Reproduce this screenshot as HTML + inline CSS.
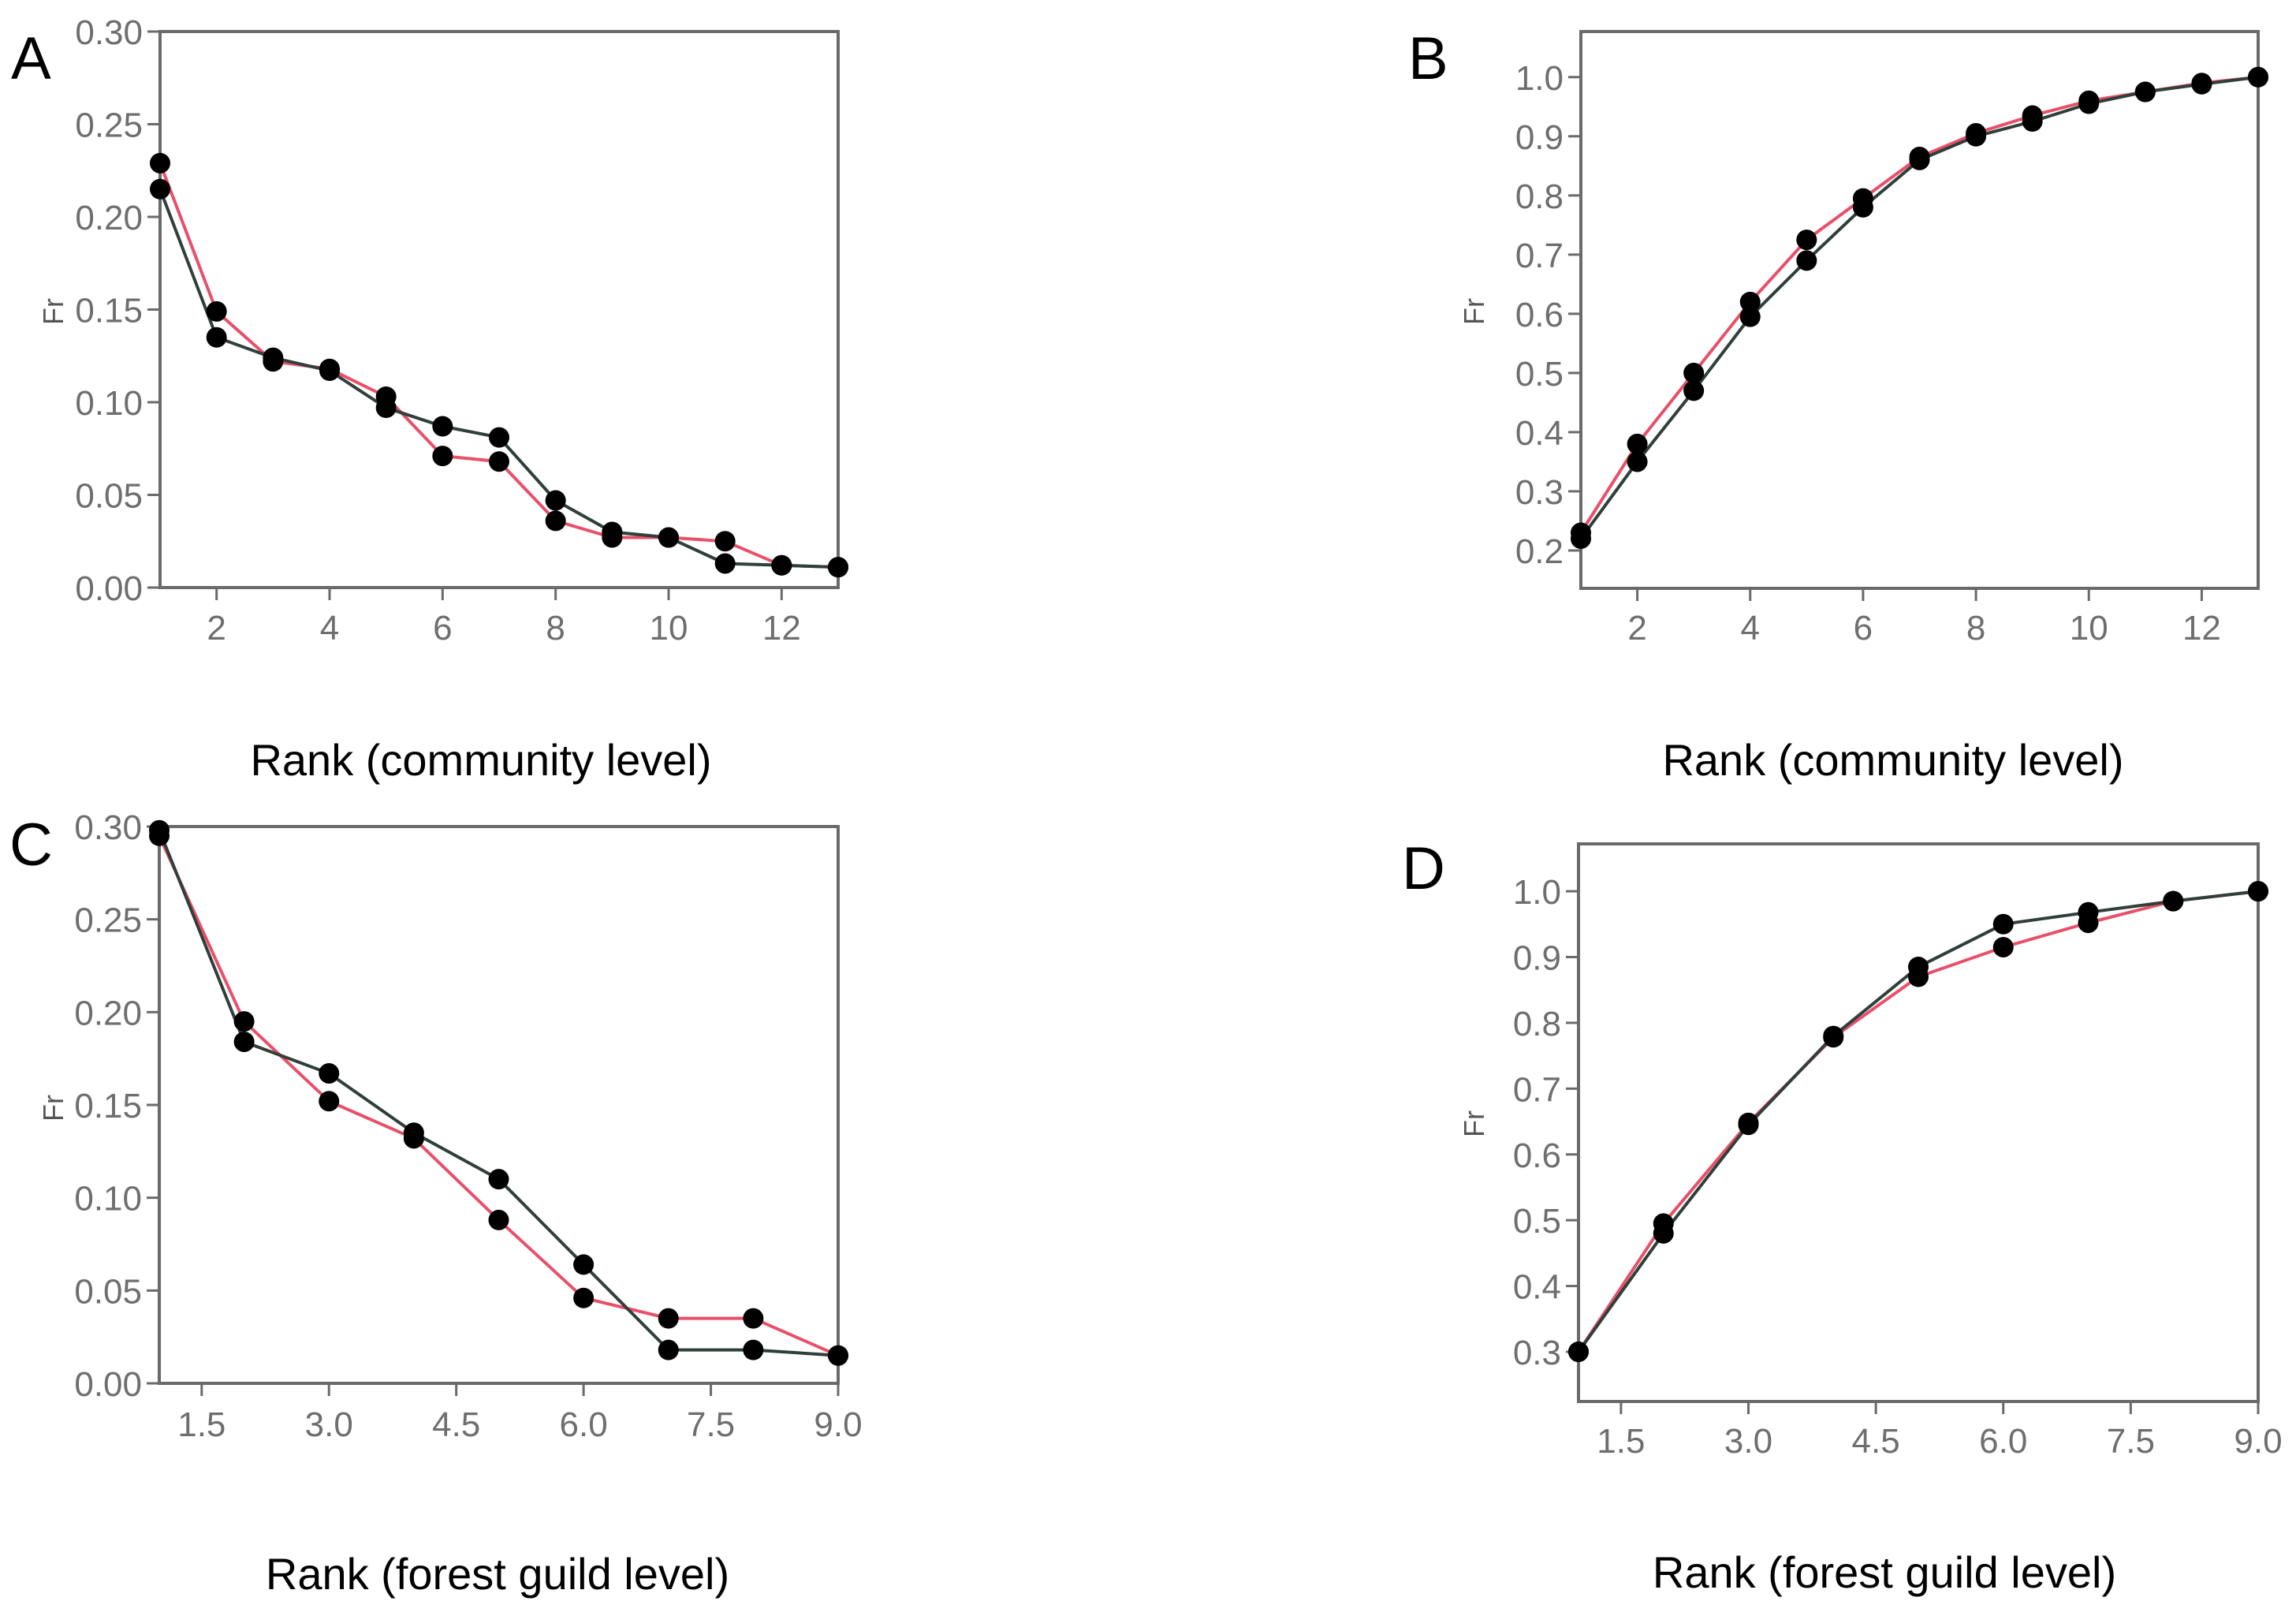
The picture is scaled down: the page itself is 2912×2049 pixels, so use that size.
<!DOCTYPE html>
<html><head><meta charset="utf-8"><style>
html,body{margin:0;padding:0;background:#fff;}
svg{display:block;}
text{font-family:"Liberation Sans",sans-serif;}
</style></head><body>
<svg id="fig" width="2912" height="2049" viewBox="0 0 2912 2049" xmlns="http://www.w3.org/2000/svg"></svg>
<script>
// Panel A data (community level, rank abundance)
const rankA = [1,2,3,4,5,6,7,8,9,10,11,12,13];
const blackA = [0.215,0.135,0.124,0.117,0.097,0.087,0.081,0.047,0.030,0.027,0.013,0.012,0.011];
const redA = [0.229,0.149,0.122,0.118,0.103,0.071,0.068,0.036,0.027,0.027,0.025,0.012,0.011];
const yTicksA = [0.00,0.05,0.10,0.15,0.20,0.25,0.30];
const xTicksA = [2,4,6,8,10,12];
// Panel B data (community level, cumulative)
const rankB = [1,2,3,4,5,6,7,8,9,10,11,12,13];
const blackB = [0.22,0.35,0.47,0.595,0.69,0.78,0.86,0.90,0.925,0.955,0.975,0.988,1.0];
const redB = [0.23,0.38,0.50,0.62,0.725,0.795,0.865,0.905,0.935,0.96,0.975,0.99,1.0];
const yTicksB = [0.2,0.3,0.4,0.5,0.6,0.7,0.8,0.9,1.0];
const xTicksB = [2,4,6,8,10,12];
// Panel C data (forest guild level, rank abundance)
const rankC = [1,2,3,4,5,6,7,8,9];
const blackC = [0.298,0.184,0.167,0.135,0.110,0.064,0.018,0.018,0.015];
const redC = [0.295,0.195,0.152,0.132,0.088,0.046,0.035,0.035,0.015];
const yTicksC = [0.00,0.05,0.10,0.15,0.20,0.25,0.30];
const xTicksC = [1.5,3.0,4.5,6.0,7.5,9.0];
// Panel D data (forest guild level, cumulative)
const rankD = [1,2,3,4,5,6,7,8,9];
const blackD = [0.30,0.48,0.645,0.78,0.885,0.95,0.968,0.985,1.0];
const redD = [0.30,0.495,0.648,0.778,0.87,0.915,0.952,0.985,1.0];
const yTicksD = [0.3,0.4,0.5,0.6,0.7,0.8,0.9,1.0];
const xTicksD = [1.5,3.0,4.5,6.0,7.5,9.0];

const NS = "http://www.w3.org/2000/svg";
const svg = document.getElementById('fig');
function mk(tag, attrs, parent, txt){
  const e = document.createElementNS(NS, tag);
  for (const k in attrs) e.setAttribute(k, attrs[k]);
  if (txt !== undefined) e.textContent = txt;
  (parent||svg).appendChild(e);
  return e;
}

const panels = [
  {id:'a', letter:'A', lx:14, ly:100, L:203, R:1063, T:40, B:745, xmin:1, xmax:13, ymin:0, ymax:0.30,
   xs:rankA, black:blackA, red:redA, yt:yTicksA, xt:xTicksA, yfmt:2, xfmt:0, xly:795,
   title:'Rank (community level)', tx:610, ty:963, frx:80, fry:395},
  {id:'b', letter:'B', lx:1786, ly:100, L:2005, R:2864, T:40, B:746, xmin:1, xmax:13, ymin:0.136, ymax:1.077,
   xs:rankB, black:blackB, red:redB, yt:yTicksB, xt:xTicksB, yfmt:1, xfmt:0, xly:795,
   title:'Rank (community level)', tx:2401, ty:963, frx:1882, fry:395},
  {id:'c', letter:'C', lx:12, ly:1097, L:202, R:1063, T:1048, B:1754, xmin:1, xmax:9, ymin:0, ymax:0.30,
   xs:rankC, black:blackC, red:redC, yt:yTicksC, xt:xTicksC, yfmt:2, xfmt:1, xly:1805,
   title:'Rank (forest guild level)', tx:631, ty:1995, frx:80, fry:1405},
  {id:'d', letter:'D', lx:1778, ly:1127, L:2002, R:2864, T:1070, B:1777, xmin:1, xmax:9, ymin:0.2245, ymax:1.072,
   xs:rankD, black:blackD, red:redD, yt:yTicksD, xt:xTicksD, yfmt:1, xfmt:1, xly:1826,
   title:'Rank (forest guild level)', tx:2390, ty:1993, frx:1882, fry:1425}
];

panels.forEach(p => {
  const g = mk('g', {});
  
  
  const sx = v => p.L + (v - p.xmin) / (p.xmax - p.xmin) * (p.R - p.L);
  const sy = v => p.B - (v - p.ymin) / (p.ymax - p.ymin) * (p.B - p.T);

  const letter = mk('text', {x:p.lx, y:p.ly, 'font-size':76, fill:'#000'}, g, p.letter);
  
  

  const frame = mk('rect', {x:p.L, y:p.T, width:p.R-p.L, height:p.B-p.T, fill:'#fff', stroke:'#6a6a6a', 'stroke-width':4}, g);
  
  

  p.yt.forEach(v => {
    const y = sy(v);
    const t = mk('line', {x1:p.L-16, x2:p.L, y1:y, y2:y, stroke:'#6a6a6a', 'stroke-width':3}, g);
    
    
    const l = mk('text', {x:p.L-22, y:y+16, 'font-size':44, fill:'#6e6e6e', 'text-anchor':'end'}, g, v.toFixed(p.yfmt));
    
    
  });
  p.xt.forEach(v => {
    const x = sx(v);
    const t = mk('line', {x1:x, x2:x, y1:p.B, y2:p.B+16, stroke:'#6a6a6a', 'stroke-width':3}, g);
    
    
    const l = mk('text', {x:x, y:p.xly+16, 'font-size':44, fill:'#6e6e6e', 'text-anchor':'middle'}, g, v.toFixed(p.xfmt));
    
    
  });

  const fr = mk('text', {x:p.frx, y:p.fry, 'font-size':36, fill:'#555', 'text-anchor':'middle', transform:'rotate(-90 '+p.frx+' '+p.fry+')'}, g, 'Fr');
  
  

  const title = mk('text', {x:p.tx, y:p.ty+20, 'font-size':56, fill:'#000', 'text-anchor':'middle'}, g, p.title);
  
  

  const series = [{vals:p.red, color:'#e8506a', name:'observed-red'}, {vals:p.black, color:'#2f3f3a', name:'fitted-black'}];
  series.forEach(s => {
    const pts = p.xs.map((x,i) => sx(x).toFixed(1) + ',' + sy(s.vals[i]).toFixed(1)).join(' ');
    const line = mk('polyline', {points:pts, fill:'none', stroke:s.color, 'stroke-width':4}, g);
    
    
  });
  series.forEach(s => {
    p.xs.forEach((x,i) => {
      const c = mk('circle', {cx:sx(x), cy:sy(s.vals[i]), r:13, fill:'#000'}, g);
      
      
    });
  });
});
</script>
</body></html>
